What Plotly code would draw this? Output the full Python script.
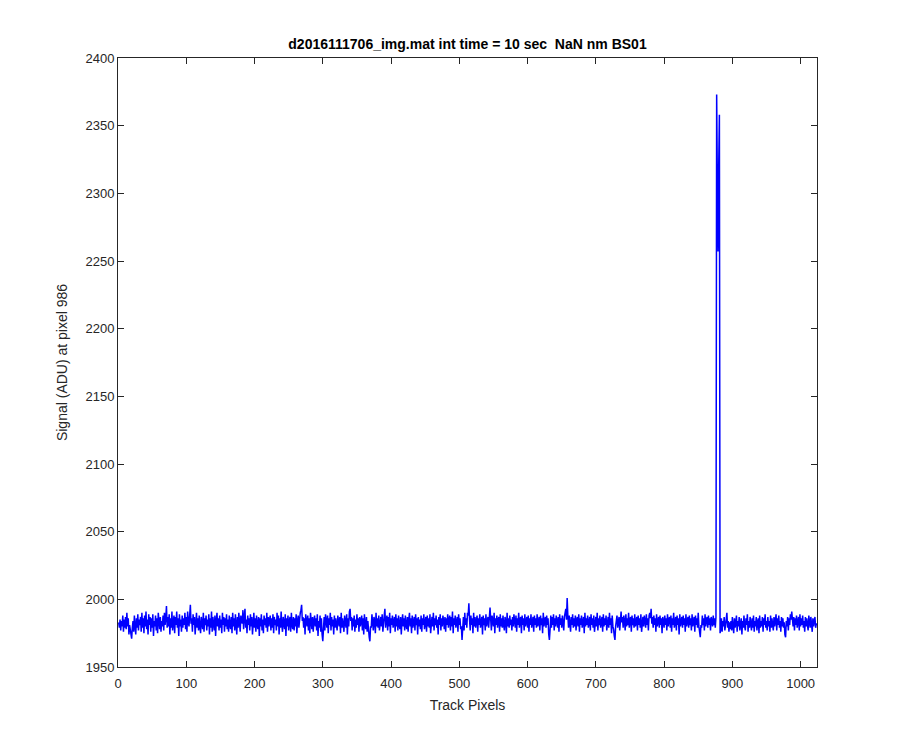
import numpy as np
import plotly.graph_objects as go

# Signal (ADU) at pixel 986 for each track pixel in rows of 32
rows = [
    [1983,1979,1985,1977,1984,1980,1988,1976,1985,1979,1987,1978,1990,1980,1986,1974,1981,1977,1975,1971,1979,1984,1976,1988,1980,1974,1986,1979,1989,1977,1985,1981],
    [1987,1976,1990,1979,1986,1975,1988,1980,1991,1978,1985,1974,1989,1981,1987,1976,1986,1979,1989,1973,1984,1980,1988,1977,1986,1975,1990,1982,1978,1987,1976,1984],
    [1980,1988,1977,1990,1981,1986,1995,1979,1987,1980,1989,1974,1986,1979,1991,1977,1985,1988,1975,1987,1981,1991,1979,1986,1973,1989,1980,1985,1976,1988,1979,1986],
    [1981,1990,1978,1987,1976,1991,1984,1980,1988,1996,1982,1986,1976,1989,1981,1987,1974,1984,1990,1979,1986,1977,1988,1980,1975,1987,1984,1978,1990,1976,1986,1981],
    [1988,1977,1985,1980,1989,1974,1986,1979,1991,1976,1987,1981,1977,1988,1973,1984,1990,1980,1986,1977,1988,1979,1985,1975,1990,1981,1987,1976,1986,1980,1989,1978],
    [1985,1976,1988,1981,1978,1987,1975,1990,1980,1986,1977,1989,1984,1974,1987,1979,1990,1981,1976,1988,1986,1982,1992,1978,1987,1993,1979,1985,1975,1988,1981,1986],
    [1977,1989,1980,1987,1974,1984,1990,1979,1986,1976,1988,1981,1978,1987,1973,1986,1980,1989,1977,1985,1975,1988,1981,1986,1979,1990,1976,1987,1980,1985,1988,1977],
    [1986,1979,1989,1975,1987,1981,1985,1977,1990,1980,1988,1974,1986,1979,1991,1981,1976,1987,1984,1978,1989,1973,1986,1980,1988,1977,1984,1987,1976,1990,1981,1978],
    [1987,1977,1986,1980,1989,1975,1984,1988,1979,1986,1990,1992,1996,1984,1987,1979,1986,1974,1989,1984,1980,1988,1977,1986,1975,1990,1981,1978,1987,1976,1984,1988],
    [1980,1986,1977,1989,1973,1984,1979,1988,1976,1986,1974,1969,1978,1987,1977,1989,1984,1979,1988,1975,1986,1981,1990,1977,1987,1980,1985,1974,1988,1979,1986,1981],
    [1977,1988,1984,1980,1987,1975,1990,1979,1986,1981,1976,1988,1984,1979,1989,1974,1986,1980,1991,1993,1984,1987,1977,1986,1980,1988,1976,1985,1979,1989,1981,1986],
    [1976,1987,1980,1985,1988,1977,1986,1974,1989,1981,1978,1987,1976,1984,1975,1972,1969,1980,1979,1989,1981,1977,1987,1984,1975,1990,1980,1986,1979,1988,1977,1985],
    [1987,1980,1989,1976,1986,1988,1993,1979,1985,1988,1977,1987,1980,1990,1975,1986,1981,1988,1979,1985,1987,1976,1989,1980,1986,1977,1988,1981,1978,1987,1974,1984],
    [1989,1980,1986,1977,1988,1981,1978,1987,1976,1985,1990,1980,1986,1975,1988,1979,1984,1987,1977,1989,1981,1986,1974,1987,1980,1985,1978,1988,1976,1986,1981,1989],
    [1978,1985,1987,1976,1988,1980,1986,1979,1989,1975,1984,1987,1980,1990,1977,1986,1981,1988,1979,1985,1974,1987,1981,1989,1977,1986,1980,1988,1984,1978,1987,1976],
    [1986,1981,1989,1979,1985,1988,1977,1987,1980,1991,1975,1986,1981,1988,1979,1985,1987,1976,1989,1981,1986,1978,1980,1970,1976,1987,1977,1990,1981,1986,1979,1990],
    [1988,1997,1985,1977,1988,1981,1986,1975,1990,1980,1987,1979,1984,1988,1976,1986,1981,1989,1979,1985,1987,1974,1988,1981,1986,1977,1989,1980,1985,1987,1979,1990],
    [1994,1985,1977,1988,1984,1980,1990,1975,1986,1981,1988,1979,1985,1987,1976,1989,1980,1986,1979,1988,1981,1977,1987,1984,1975,1990,1980,1986,1979,1988,1981,1985],
    [1977,1987,1980,1989,1984,1979,1988,1976,1986,1981,1990,1979,1985,1987,1975,1988,1981,1986,1977,1989,1980,1985,1987,1979,1988,1976,1986,1981,1989,1979,1985,1987],
    [1976,1988,1981,1986,1979,1989,1980,1985,1987,1977,1988,1981,1986,1975,1990,1980,1985,1987,1979,1988,1981,1986,1974,1970,1978,1988,1979,1987,1981,1989,1977,1986],
    [1980,1988,1984,1979,1987,1976,1989,1981,1986,1979,1988,1984,1977,1987,1990,1993,1985,2001,1988,1979,1988,1984,1976,1987,1981,1989,1979,1986,1980,1988,1977,1985],
    [1987,1980,1989,1976,1986,1981,1988,1979,1985,1987,1975,1990,1980,1986,1981,1988,1979,1985,1987,1977,1989,1981,1986,1979,1988,1976,1985,1987,1980,1990,1977,1986],
    [1981,1988,1979,1985,1987,1976,1989,1980,1986,1981,1988,1977,1985,1987,1979,1990,1981,1986,1975,1988,1980,1978,1973,1970,1980,1983,1988,1979,1985,1987,1977,1989],
    [1991,1983,1987,1979,1988,1984,1977,1989,1980,1986,1981,1990,1979,1985,1987,1976,1988,1981,1986,1979,1989,1980,1985,1987,1977,1988,1981,1986,1979,1989,1976,1985],
    [1987,1980,1988,1984,1979,1989,1981,1986,1977,1988,1990,1986,1993,1982,1987,1979,1988,1981,1986,1976,1989,1980,1985,1987,1979,1988,1981,1986,1975,1987,1984,1979],
    [1988,1981,1986,1977,1989,1980,1985,1987,1979,1988,1976,1986,1981,1990,1979,1985,1987,1977,1988,1981,1986,1974,1989,1980,1985,1987,1979,1988,1981,1986,1976,1989],
    [1980,1985,1987,1979,1988,1981,1986,1977,1989,1980,1985,1987,1976,1988,1981,1986,1979,1990,1980,1976,1972,1981,1979,1988,1981,1986,1977,1989,1980,1985,1987,1979],
    [1988,1981,1986,1977,1987,1984,1980,1988,1981,1986,1979,1987,2373,2310,2257,2320,2358,1975,1978,1986,1976,1984,1980,1987,1977,1981,1986,1990,1979,1984,1976,1983],
    [1978,1984,1977,1987,1980,1975,1986,1979,1983,1988,1976,1984,1980,1987,1977,1983,1986,1974,1984,1979,1988,1980,1977,1986,1981,1989,1976,1984,1979,1987,1980,1977],
    [1986,1979,1988,1976,1984,1980,1987,1977,1983,1986,1975,1988,1979,1984,1980,1987,1976,1986,1981,1989,1979,1984,1977,1987,1980,1984,1976,1988,1979,1986,1981,1977],
    [1987,1980,1984,1989,1977,1986,1981,1988,1979,1984,1976,1987,1980,1986,1979,1983,1974,1972,1984,1980,1987,1977,1986,1981,1989,1985,1991,1984,1980,1987,1977,1986],
    [1981,1988,1979,1984,1987,1977,1989,1980,1986,1981,1988,1979,1984,1976,1987,1980,1986,1981,1977,1988,1984,1979,1987,1981,1976,1986,1980,1984,1987,1979,1982,1981],
]
signal = [v for r in rows for v in r]
track_pixels = list(range(1, len(signal) + 1))

x_ticks = [0, 100, 200, 300, 400, 500, 600, 700, 800, 900, 1000]
y_ticks = [1950, 2000, 2050, 2100, 2150, 2200, 2250, 2300, 2350, 2400]

title_text = "d2016111706_img.mat int time = 10 sec  NaN nm BS01"

FONT = "Liberation Sans, Arial, sans-serif"

fig = go.Figure()
fig.add_trace(go.Scatter(
    x=track_pixels, y=signal, mode="lines",
    line=dict(color="#0000FF", width=1.5),
    showlegend=False, hoverinfo="skip",
))

axis_common = dict(
    showline=True, linecolor="#262626", linewidth=1, mirror="ticks",
    ticks="inside", ticklen=6, tickcolor="#262626", tickwidth=1,
    showgrid=False, zeroline=False,
    tickfont=dict(family=FONT, size=13, color="#262626"),
)

# the page body adds an 8px offset, so margins are adjusted accordingly
fig.update_layout(
    width=900, height=750,
    paper_bgcolor="white", plot_bgcolor="white",
    margin=dict(l=110, r=91, t=50, b=91),
    font=dict(family=FONT, size=13, color="#262626"),
    title=dict(
        text="<b>" + title_text + "</b>",
        x=(110 + 809) / 2 / 900, xanchor="center",
        y=1 - 36 / 750, yanchor="middle",
        font=dict(family=FONT, size=14, color="black"),
    ),
    xaxis=dict(
        range=[0, 1024], tickvals=x_ticks, ticklabelstandoff=4,
        title=dict(text="Track Pixels", standoff=10, font=dict(family=FONT, size=14, color="#262626")),
        **axis_common,
    ),
    yaxis=dict(
        range=[1950, 2400], tickvals=y_ticks,
        title=dict(text="Signal (ADU) at pixel 986", standoff=14, font=dict(family=FONT, size=14, color="#262626")),
        **axis_common,
    ),
)

fig.write_html("out.html")
